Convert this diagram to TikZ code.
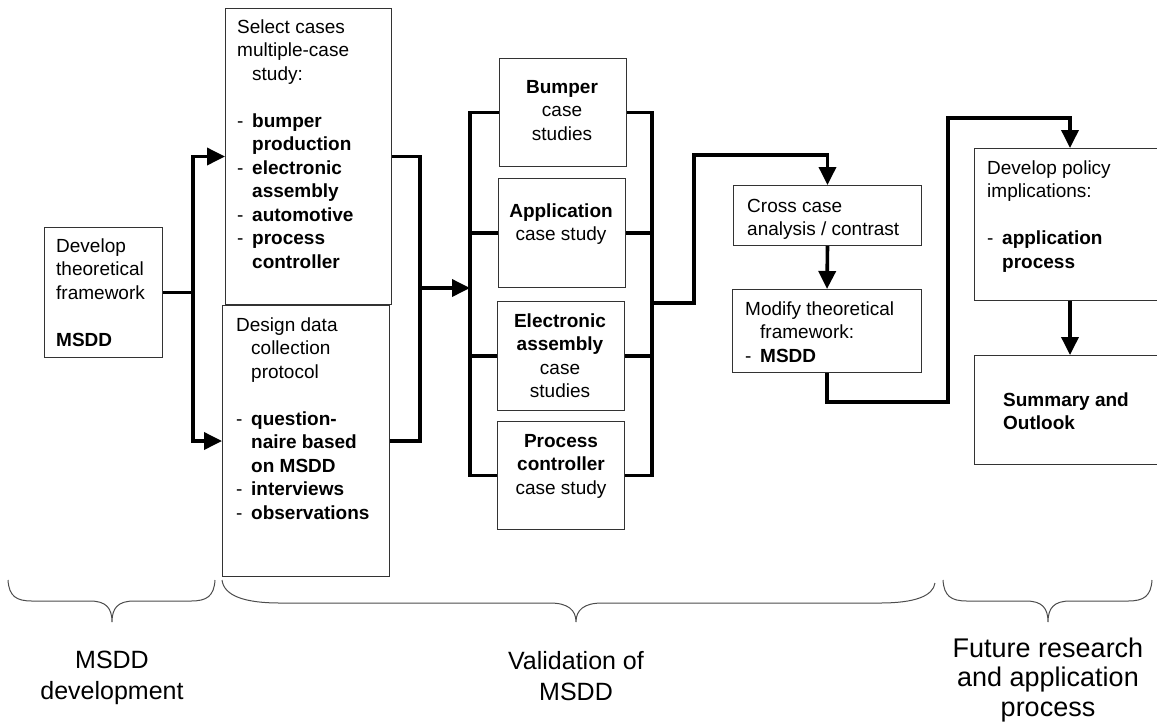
\documentclass[tikz,border=0pt]{standalone}
\usepackage{fontspec}
\setmainfont{Liberation Sans}
\usetikzlibrary{arrows.meta}

% list helpers: a leading dash and the matching hanging indent
\newcommand\itemdash{\makebox[15pt][l]{-}}
\newcommand\itemind{\hspace*{15pt}}

\begin{document}
\begin{tikzpicture}[x=1pt,y=-1pt,
  box/.style={draw=black!80, line width=1pt, inner sep=0pt, anchor=north west},
  txt/.style={font=\fontsize{19}{23.5}\selectfont, inner sep=0pt},
  conn/.style={line width=3.6pt, black},
  arr/.style={conn, -{Triangle[length=18pt,width=17pt]}},
  brace/.style={line width=1pt, black!70},
  phase/.style={font=\fontsize{25}{31}\selectfont, inner sep=0pt, anchor=base}
]
\clip (0,0) rectangle (1157,724);

% ---------- boxes ----------
\node[box, minimum width=118pt, minimum height=130pt] (dev)   at (44,227)  {};
\node[box, minimum width=166pt, minimum height=296pt] (sel)   at (225,8)   {};
\node[box, minimum width=167pt, minimum height=271pt] (des)   at (222,305) {};
\node[box, minimum width=127pt, minimum height=108pt] (bump)  at (499,58)  {};
\node[box, minimum width=127pt, minimum height=109pt] (appl)  at (498,178) {};
\node[box, minimum width=127pt, minimum height=109pt] (elec)  at (497,301) {};
\node[box, minimum width=127pt, minimum height=108pt] (proc)  at (497,421) {};
\node[box, minimum width=188pt, minimum height=60pt]  (cross) at (733,185) {};
\node[box, minimum width=189pt, minimum height=83pt]  (mod)   at (732,289) {};
\node[box, minimum width=210pt, minimum height=152pt] (pol)   at (974,148) {};
\node[box, minimum width=210pt, minimum height=109pt] (summ)  at (974,355) {};

% ---------- box texts ----------
\node[txt, anchor=base west] (devT) at (56,252) {\begin{tabular}[t]{@{}l@{}}
  Develop\\ theoretical\\ framework\\ \\ \textbf{MSDD}\end{tabular}};
\node[txt, anchor=base west] (selT) at (237,33) {\begin{tabular}[t]{@{}l@{}}
  Select cases\\ multiple-case\\ \itemind study:\\ \\
  \itemdash\textbf{bumper}\\ \itemind\textbf{production}\\
  \itemdash\textbf{electronic}\\ \itemind\textbf{assembly}\\
  \itemdash\textbf{automotive}\\ \itemdash\textbf{process}\\
  \itemind\textbf{controller}\end{tabular}};
\node[txt, anchor=base west] (desT) at (236,331) {\begin{tabular}[t]{@{}l@{}}
  Design data\\ \itemind collection\\ \itemind protocol\\ \\
  \itemdash\textbf{question-}\\ \itemind\textbf{naire based}\\
  \itemind\textbf{on MSDD}\\ \itemdash\textbf{interviews}\\
  \itemdash\textbf{observations}\end{tabular}};
\node[txt, anchor=base] (bumpT) at (562,93) {\begin{tabular}[t]{@{}c@{}}
  \textbf{Bumper}\\ case\\ studies\end{tabular}};
\node[txt, anchor=base] (applT) at (561,217) {\begin{tabular}[t]{@{}c@{}}
  \textbf{Application}\\ case study\end{tabular}};
\node[txt, anchor=base] (elecT) at (560,327) {\begin{tabular}[t]{@{}c@{}}
  \textbf{Electronic}\\ \textbf{assembly}\\ case\\ studies\end{tabular}};
\node[txt, anchor=base] (procT) at (561,447) {\begin{tabular}[t]{@{}c@{}}
  \textbf{Process}\\ \textbf{controller}\\ case study\end{tabular}};
\node[txt, anchor=base west] (crossT) at (747,212) {\begin{tabular}[t]{@{}l@{}}
  Cross case\\ analysis / contrast\end{tabular}};
\node[txt, anchor=base west] (modT) at (745,315) {\begin{tabular}[t]{@{}l@{}}
  Modify theoretical\\ \itemind framework:\\ \itemdash\textbf{MSDD}\end{tabular}};
\node[txt, anchor=base west] (polT) at (987,174) {\begin{tabular}[t]{@{}l@{}}
  Develop policy\\ implications:\\ \\ \itemdash\textbf{application}\\
  \itemind\textbf{process}\end{tabular}};
\node[txt, anchor=base west] (summT) at (1003,406) {\begin{tabular}[t]{@{}l@{}}
  \textbf{Summary and}\\ \textbf{Outlook}\end{tabular}};

% ---------- connector reference points ----------
\coordinate (sp1) at (193,0);
\coordinate (sp2) at (420,0);
\coordinate (m1)  at (420,288);
\coordinate (lb)  at (470,0);
\coordinate (rb)  at (652,0);
\coordinate (m2)  at (652,303);
\coordinate (k1)  at (694,155);
\coordinate (k2)  at (948,402);
\coordinate (k3)  at (1070,118);

% ---------- connectors ----------
% framework -> case selection and protocol design
\draw[arr] (dev.east) -| (sp1|-sel.west) -- (sel.west);
\draw[arr] (dev.east -| sp1) |- (des.west);
% selection and protocol join, then feed the case-study column
\draw[conn] (sel.east) -| (sp2|-des.east) -- (des.east);
\draw[arr] (m1) -- (m1 -| lb);
% left bus of the case studies
\draw[conn] (bump.west) -- (bump.west -| lb) -- (proc.west -| lb) -- (proc.west);
\draw[conn] (appl.west) -- (appl.west -| lb);
\draw[conn] (elec.west) -- (elec.west -| lb);
% right bus of the case studies
\draw[conn] (bump.east) -- (bump.east -| rb) -- (proc.east -| rb) -- (proc.east);
\draw[conn] (appl.east) -- (appl.east -| rb);
\draw[conn] (elec.east) -- (elec.east -| rb);
% case studies -> cross case analysis -> modify framework
\draw[arr] (m2) -| (k1) -| (cross.north);
\draw[arr] (cross.south) -- (mod.north);
% modified framework -> policy implications -> summary
\draw[arr] (mod.south) |- (k2) |- (k3) -- (k3|-pol.north);
\draw[arr] (k3|-pol.south) -- (k3|-summ.north);

% ---------- phase braces ----------
\draw[brace] (8,580) .. controls (9,596) and (16,601) .. (32,601)
  -- (90,601) .. controls (106,601) and (112,608) .. (112,622)
  .. controls (112,608) and (118,601) .. (134,601)
  -- (191,601) .. controls (207,601) and (214,596) .. (215,580);
\draw[brace] (222,580) .. controls (224,596) and (245,603) .. (280,603)
  -- (550,603) .. controls (568,603) and (576,610) .. (576,622)
  .. controls (576,610) and (584,603) .. (602,603)
  -- (880,603) .. controls (915,603) and (933,596) .. (935,583);
\draw[brace] (943,580) .. controls (944,596) and (951,601) .. (967,601)
  -- (1026,601) .. controls (1042,601) and (1048,608) .. (1048,622)
  .. controls (1048,608) and (1054,601) .. (1070,601)
  -- (1128,601) .. controls (1144,601) and (1151,596) .. (1152,580);

% ---------- phase labels ----------
\node[phase] (ph1) at (112,668) {\begin{tabular}[t]{@{}c@{}}MSDD\\ development\end{tabular}};
\node[phase] (ph2) at (576,669) {\begin{tabular}[t]{@{}c@{}}Validation of\\ MSDD\end{tabular}};
\node[phase, font=\fontsize{27}{29.5}\selectfont] (ph3) at (1048,657)
  {\begin{tabular}[t]{@{}c@{}}Future research\\ and application\\ process\end{tabular}};
\end{tikzpicture}
\end{document}
